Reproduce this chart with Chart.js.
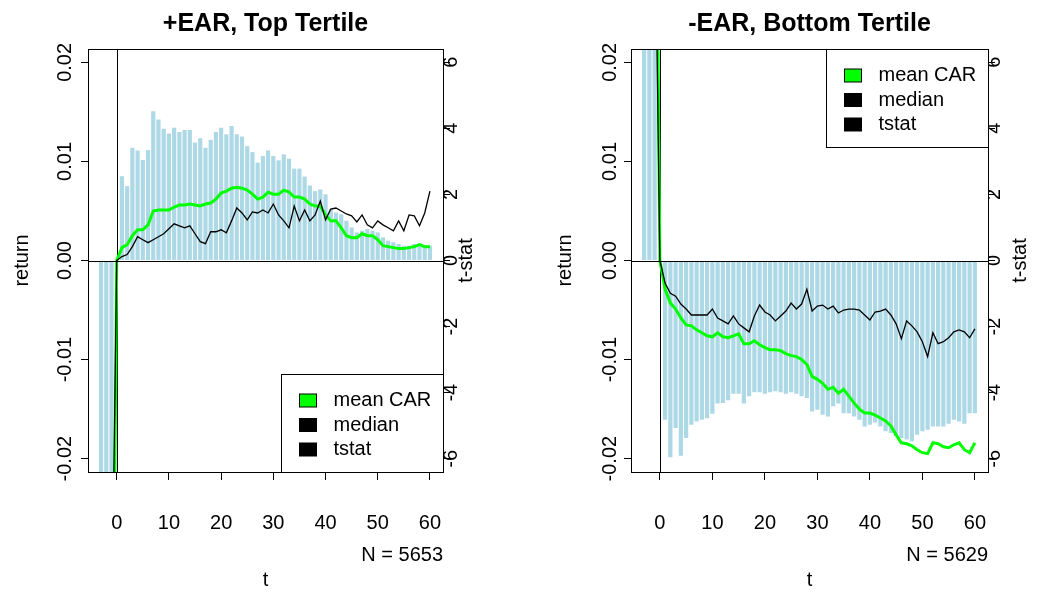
<!DOCTYPE html>
<html>
<head>
<meta charset="utf-8">
<script src="https://cdn.jsdelivr.net/npm/chart.js@4/dist/chart.umd.min.js"></script>
<style>
  body { margin: 0; background: #fff; }
  #wrap { position: relative; width: 1055px; height: 592px; }
  canvas { position: absolute; top: 0; }
</style>
</head>
<body>
<div id="wrap">
  <canvas id="topChart" width="528" height="592" style="left:0"></canvas>
  <canvas id="bottomChart" width="527" height="592" style="left:528px"></canvas>
</div>
<script>
// event days
const days = [-3, -2, -1, 0, 1, 2, 3, 4, 5, 6, 7, 8, 9, 10, 11, 12, 13, 14, 15, 16, 17, 18, 19, 20,
  21, 22, 23, 24, 25, 26, 27, 28, 29, 30, 31, 32, 33, 34, 35, 36, 37, 38, 39, 40,
  41, 42, 43, 44, 45, 46, 47, 48, 49, 50, 51, 52, 53, 54, 55, 56, 57, 58, 59, 60];

// tick labels
const xTicks = [0, 10, 20, 30, 40, 50, 60];
const returnTicks = [-0.02, -0.01, 0, 0.01, 0.02];
const returnTickLabels = ['-0.02', '-0.01', '0.00', '0.01', '0.02'];
const tstatTicks = [-6, -4, -2, 0, 2, 4, 6];
const legendLabels = ['mean CAR', 'median', 'tstat'];

// +EAR, top tertile
const topMeanCAR = [-0.06, -0.06, -0.06, 0,
  0.0013, 0.0016, 0.0025, 0.0031, 0.0031, 0.0036, 0.0050, 0.0051, 0.0051, 0.0051,
  0.0054, 0.0056, 0.0056, 0.0057, 0.0056, 0.0055, 0.0057, 0.0058, 0.0062, 0.0068,
  0.0070, 0.0073, 0.0074, 0.0073, 0.0071, 0.0067, 0.0062, 0.0064, 0.0069, 0.0067,
  0.0067, 0.0071, 0.0069, 0.0064, 0.0064, 0.0062, 0.0057, 0.0055, 0.0055, 0.0046,
  0.0040, 0.0040, 0.0033, 0.0025, 0.0023, 0.0023, 0.0027, 0.0025, 0.0025, 0.0021,
  0.0015, 0.0014, 0.0013, 0.0012, 0.0012, 0.0013, 0.0014, 0.0016, 0.0014, 0.0014];
const topMedian = [-0.04, -0.04, -0.04, 0,
  0.0004, 0.0006, 0.0014, 0.0024, 0.0021, 0.0018, 0.0021, 0.0024, 0.0027, 0.0032,
  0.0037, 0.0035, 0.0033, 0.0035, 0.0027, 0.0019, 0.0017, 0.0029, 0.0029, 0.0031,
  0.0028, 0.0040, 0.0053, 0.0048, 0.0041, 0.0049, 0.0048, 0.0051, 0.0048, 0.0057,
  0.0046, 0.0040, 0.0033, 0.0055, 0.0040, 0.0051, 0.0040, 0.0046, 0.0060, 0.0041,
  0.0052, 0.0053, 0.0050, 0.0047, 0.0045, 0.0039, 0.0046, 0.0036, 0.0033, 0.0040,
  0.0036, 0.0033, 0.0030, 0.0040, 0.0030, 0.0046, 0.0045, 0.0035, 0.0048, 0.0070];
const topTstat = [-14, -14, -14, 0,
  2.55, 2.25, 3.41, 3.33, 3.04, 3.34, 4.52, 4.27, 3.99, 3.84,
  4.02, 3.89, 3.95, 3.95, 3.57, 3.70, 3.41, 3.65, 3.89, 4.02,
  3.82, 4.07, 3.82, 3.75, 3.46, 3.28, 2.96, 3.16, 3.33, 3.16,
  3.03, 3.21, 3.08, 2.78, 2.78, 2.54, 2.27, 2.10, 2.15, 2.00,
  1.55, 1.45, 1.40, 1.20, 1.00, 0.85, 0.90, 0.95, 0.90, 0.85,
  0.70, 0.60, 0.55, 0.50, 0.45, 0.45, 0.50, 0.50, 0.45, 0.45];

// -EAR, bottom tertile
const bottomMeanCAR = [0.06, 0.06, 0.06, 0,
  -0.0029, -0.0043, -0.0049, -0.0058, -0.0065, -0.0066, -0.0070, -0.0073, -0.0076, -0.0077,
  -0.0073, -0.0077, -0.0078, -0.0076, -0.0074, -0.0084, -0.0084, -0.0081, -0.0085, -0.0088,
  -0.0090, -0.0090, -0.0091, -0.0094, -0.0096, -0.0097, -0.0100, -0.0105, -0.0117, -0.0120,
  -0.0124, -0.0130, -0.0128, -0.0134, -0.0130, -0.0137, -0.0144, -0.0150, -0.0154, -0.0154,
  -0.0156, -0.0159, -0.0162, -0.0167, -0.0176, -0.0184, -0.0185, -0.0187, -0.0191, -0.0194,
  -0.0195, -0.0184, -0.0185, -0.0188, -0.0189, -0.0186, -0.0184, -0.0191, -0.0194, -0.0184];
const bottomMedian = [0.04, 0.04, 0.04, 0,
  -0.0023, -0.0033, -0.0036, -0.0044, -0.0049, -0.0055, -0.0055, -0.0055, -0.0055, -0.0049,
  -0.0058, -0.0061, -0.0064, -0.0056, -0.0064, -0.0068, -0.0072, -0.0056, -0.0045, -0.0052,
  -0.0055, -0.0061, -0.0056, -0.0051, -0.0043, -0.0049, -0.0044, -0.0029, -0.0051, -0.0046,
  -0.0045, -0.0049, -0.0046, -0.0053, -0.0050, -0.0049, -0.0049, -0.0050, -0.0055, -0.0060,
  -0.0052, -0.0051, -0.0049, -0.0055, -0.0064, -0.0079, -0.0061, -0.0066, -0.0072, -0.0082,
  -0.0097, -0.0073, -0.0084, -0.0082, -0.0078, -0.0072, -0.0070, -0.0072, -0.0078, -0.0069];
const bottomTstat = [15, 15, 15, 0,
  -4.82, -5.95, -5.07, -5.91, -5.37, -4.97, -4.87, -4.82, -4.77, -4.64,
  -4.33, -4.31, -4.23, -4.03, -4.03, -4.33, -4.11, -3.99, -3.99, -4.03,
  -3.99, -3.96, -3.99, -4.03, -3.99, -4.03, -4.11, -4.16, -4.57, -4.52,
  -4.67, -4.72, -4.41, -4.33, -4.62, -4.62, -4.72, -4.82, -5.02, -4.97,
  -4.90, -5.02, -5.17, -5.22, -5.32, -5.37, -5.42, -5.47, -5.27, -5.17,
  -5.12, -5.02, -5.02, -5.02, -4.94, -4.82, -4.87, -4.94, -4.62, -4.62];

const FONT = '"Liberation Sans", Arial, sans-serif';

// titles, box, zero lines and legend, R-style
const decor = {
  id: 'decor',
  beforeDatasetsDraw(chart) {
    const ctx = chart.ctx, a = chart.chartArea;
    const x0 = Math.round(chart.scales.x.getPixelForValue(0)) + 0.5;
    ctx.save();
    ctx.strokeStyle = '#000';
    ctx.lineWidth = 1;
    ctx.beginPath();
    ctx.moveTo(x0, a.top);
    ctx.lineTo(x0, a.bottom);
    ctx.stroke();
    ctx.restore();
  },
  afterDatasetsDraw(chart) {
    const ctx = chart.ctx, a = chart.chartArea;
    const y0 = Math.round(chart.scales.y.getPixelForValue(0)) + 0.5;
    ctx.save();
    ctx.strokeStyle = '#000';
    ctx.lineWidth = 1;
    ctx.beginPath();
    ctx.moveTo(a.left, y0);
    ctx.lineTo(a.right, y0);
    ctx.stroke();
    ctx.restore();
  },
  afterDraw(chart, args, o) {
    const ctx = chart.ctx, a = chart.chartArea;
    const cx = (a.left + a.right) / 2, cy = (a.top + a.bottom) / 2;
    ctx.save();
    ctx.strokeStyle = '#000';
    ctx.lineWidth = 1;
    ctx.strokeRect(Math.round(a.left) + 0.5, Math.round(a.top) + 0.5,
      Math.round(a.right - a.left), Math.round(a.bottom - a.top));

    ctx.fillStyle = '#000';
    ctx.textAlign = 'center';
    ctx.textBaseline = 'middle';
    ctx.font = 'bold 25px ' + FONT;
    ctx.fillText(o.title, cx, 24);

    ctx.font = '20px ' + FONT;
    ctx.fillText('t', cx, 580);
    ctx.textAlign = 'right';
    ctx.fillText(o.n, a.right, 555);

    ctx.textAlign = 'center';
    ctx.save();
    ctx.translate(o.leftTitleX, cy);
    ctx.rotate(-Math.PI / 2);
    ctx.fillText('return', 0, 0);
    ctx.restore();
    ctx.save();
    ctx.translate(o.rightTitleX, cy);
    ctx.rotate(-Math.PI / 2);
    ctx.fillText('t-stat', 0, 0);
    ctx.restore();

    // legend
    const w = 162, h = 98;
    const lx = Math.round(a.right - w) + 0.5;
    const ly = o.legendTop ? Math.round(a.top) + 0.5 : Math.round(a.bottom - h) + 0.5;
    ctx.fillStyle = '#fff';
    ctx.fillRect(lx, ly, w, h);
    ctx.strokeRect(lx, ly, w, h);
    const fills = ['#00FF00', '#000', '#000'];
    const rows = [26, 50.5, 75];
    ctx.textAlign = 'left';
    legendLabels.forEach((lab, i) => {
      ctx.fillStyle = fills[i];
      ctx.fillRect(lx + 18, ly + rows[i] - 6.5, 17, 13);
      ctx.strokeRect(lx + 18, ly + rows[i] - 6.5, 17, 13);
      ctx.fillStyle = '#000';
      ctx.fillText(lab, lx + 52, ly + rows[i]);
    });
    ctx.restore();
  }
};

function makePanel(id, meanCAR, median, tstat, p) {
  const pts = arr => days.map((d, i) => ({ x: d, y: arr[i] }));
  const tickFont = { family: FONT, size: 20 };
  return new Chart(document.getElementById(id), {
    type: 'bar',
    data: {
      datasets: [
        { type: 'line', label: 'median', data: pts(median), yAxisID: 'y',
          borderColor: '#000', borderWidth: 1.3, pointRadius: 0, tension: 0 },
        { type: 'line', label: 'mean CAR', data: pts(meanCAR), yAxisID: 'y',
          borderColor: '#00FF00', borderWidth: 3, pointRadius: 0, tension: 0 },
        { type: 'bar', label: 'tstat', data: pts(tstat), yAxisID: 'y2',
          backgroundColor: '#ADD8E6', borderWidth: 0,
          categoryPercentage: 0.8, barPercentage: 1 }
      ]
    },
    options: {
      responsive: false,
      devicePixelRatio: 1,
      animation: false,
      layout: { padding: { top: 49, left: 0, right: 0, bottom: 0 } },
      plugins: {
        legend: { display: false },
        tooltip: { enabled: false },
        decor: p.decor
      },
      scales: {
        x: {
          type: 'linear', min: -5.5, max: 62.5, offset: false,
          afterBuildTicks: s => { s.ticks = xTicks.map(v => ({ value: v })); },
          afterFit: s => { s.height = 120; },
          ticks: { font: tickFont, color: '#000', padding: 31, maxRotation: 0, autoSkip: false },
          grid: { drawOnChartArea: false, tickLength: 8, color: '#000', offset: false },
          border: { color: '#000' }
        },
        y: {
          position: 'left', min: -0.02135, max: 0.02135,
          afterBuildTicks: s => { s.ticks = returnTicks.map(v => ({ value: v })); },
          afterFit: s => { s.width = p.leftW; },
          ticks: { font: tickFont, color: '#000', minRotation: 90, maxRotation: 90,
            crossAlign: 'center', padding: p.leftPad,
            callback: v => returnTickLabels[returnTicks.indexOf(v)] },
          grid: { drawOnChartArea: false, tickLength: 7, color: '#000' },
          border: { color: '#000' }
        },
        y2: {
          position: 'right', min: -6.4, max: 6.4,
          afterBuildTicks: s => { s.ticks = tstatTicks.map(v => ({ value: v })); },
          afterFit: s => { s.width = p.rightW; },
          ticks: { font: tickFont, color: '#000', minRotation: 90, maxRotation: 90,
            crossAlign: 'center', padding: p.rightPad,
            callback: v => String(v) },
          grid: { drawOnChartArea: false, tickLength: 7, color: '#000' },
          border: { color: '#000' }
        }
      }
    },
    plugins: [decor]
  });
}

makePanel('topChart', topMeanCAR, topMedian, topTstat, {
  leftW: 88, rightW: 85, leftPad: -7, rightPad: -7,
  decor: { title: '+EAR, Top Tertile', n: 'N = 5653', leftTitleX: 22, rightTitleX: 466, legendTop: false }
});

makePanel('bottomChart', bottomMeanCAR, bottomMedian, bottomTstat, {
  leftW: 103, rightW: 67, leftPad: -9, rightPad: -9,
  decor: { title: '-EAR, Bottom Tertile', n: 'N = 5629', leftTitleX: 37, rightTitleX: 492, legendTop: true }
});
</script>
</body>
</html>
